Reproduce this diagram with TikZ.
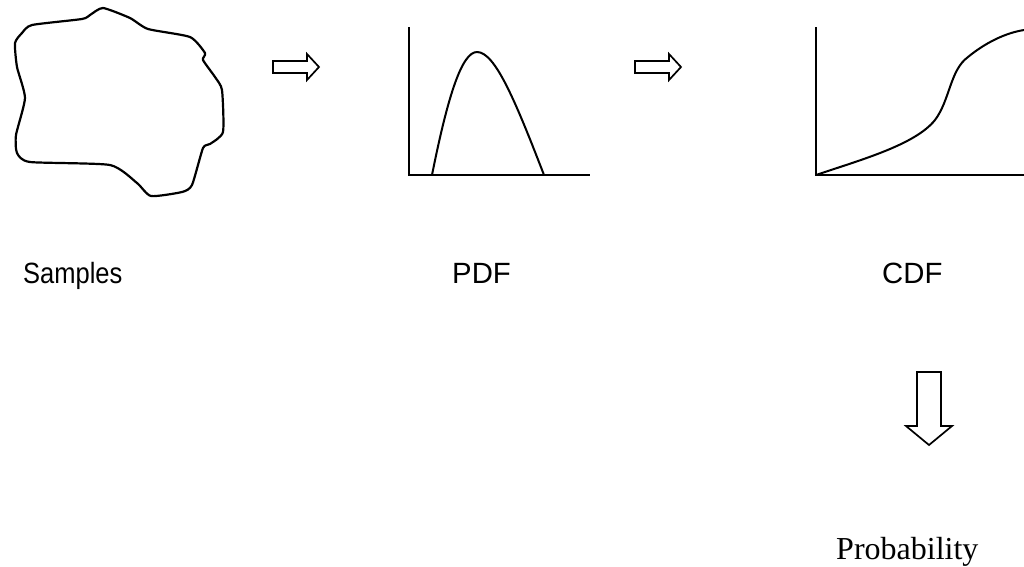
\documentclass[tikz,border=0pt]{standalone}
\usepackage{fontspec}
\setmainfont{Liberation Sans}
\newfontfamily\serifprob{Liberation Serif}
\begin{document}
\begin{tikzpicture}[x=1pt,y=-1pt,
  curve/.style={line width=2pt, line join=round},
  axis/.style={line width=2pt},
  blockarrow/.style={line width=1.7pt, line join=miter},
  lab/.style={anchor=base west, inner sep=0pt, font=\fontsize{29.3}{32}\selectfont}]
\useasboundingbox (0,0) rectangle (1024,566);
% blob
\draw[line width=2.2pt, line join=round] plot[smooth cycle, tension=0.35] coordinates {
 (103,8) (90,15) (82,19) (32,25) (22,33) (15,43) (17,67) (25,98) (16,135) (17,153)
 (30,162) (110,165) (137,183) (151,196) (182,192) (192,185) (203,148) (210,144)
 (223,132) (222,90) (215,77) (203,60) (205,53) (190,37) (148,29) (130,18)};
% arrow 1
\draw[blockarrow] (273,61) -- (307,61) -- (307,54) -- (319,67) -- (307,80) -- (307,73) -- (273,73) -- cycle;
% PDF axes and curve
\coordinate (pO) at (409,175);
\coordinate (pT) at (409,27);
\coordinate (pR) at (590,175);
\draw[axis] (pT) -- (pO) -- (pR);
\draw[curve] (432,175) .. controls (448,95) and (462,52) .. (477,52) .. controls (495,52) and (515,100) .. (544,175);
% arrow 2
\draw[blockarrow] (635,61) -- (669,61) -- (669,54) -- (681,67) -- (669,80) -- (669,73) -- (635,73) -- cycle;
% CDF axes and curve
\coordinate (cO) at (816,175);
\coordinate (cT) at (816,27);
\coordinate (cR) at (1024,175);
\draw[axis] (cT) -- (cO) -- (cR);
\draw[curve] (cO) .. controls (860,160) and (915,145) .. (935,120) .. controls (950,100) and (950,70) .. (968,57) .. controls (985,43) and (1005,33) .. (1024,30);
% labels
\node[lab, xscale=0.87] (samples) at (23,283) {Samples};
\node[lab] (pdf) at (452,283) {PDF};
\node[lab] (cdf) at (882,283) {CDF};
% down arrow
\draw[blockarrow] (917,372) -- (941,372) -- (941,426) -- (952,426) -- (929,445) -- (906,426) -- (917,426) -- cycle;
\node[anchor=base west, inner sep=0pt, font=\serifprob\fontsize{32}{36}\selectfont] (prob) at (836,559) {Probability};
\end{tikzpicture}
\end{document}
